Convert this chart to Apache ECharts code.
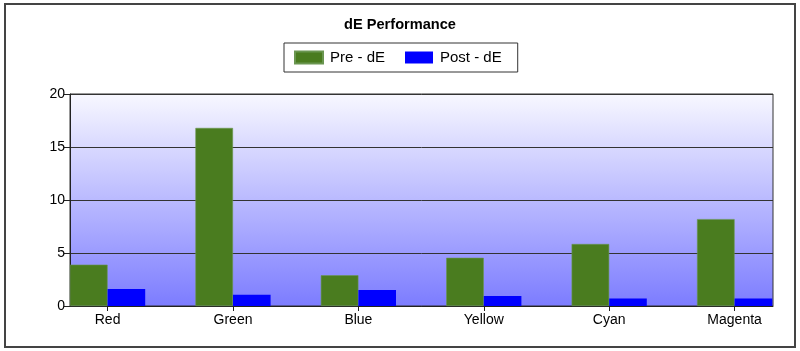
<!DOCTYPE html>
<html>
<head>
<meta charset="utf-8">
<script src="https://cdn.jsdelivr.net/npm/echarts@6/dist/echarts.min.js"></script>
<style>
  html, body { margin: 0; padding: 0; background: #fff; }
  #chart { width: 800px; height: 351px; }
</style>
</head>
<body>
<div id="chart"></div>
<script>
var categories = ['Red', 'Green', 'Blue', 'Yellow', 'Cyan', 'Magenta'];
var preDE = [3.9, 16.8, 2.9, 4.55, 5.85, 8.2];
var postDE = [1.6, 1.05, 1.5, 0.95, 0.7, 0.7];
var yTicks = { min: 0, max: 20, interval: 5 };

var font = 'Liberation Sans, Arial, sans-serif';
var chart = echarts.init(document.getElementById('chart'));

var option = {
    animation: false,
    textStyle: { fontFamily: font },
    title: {
        text: 'dE Performance',
        left: 'center',
        top: 12,
        textStyle: { fontSize: 14.6, fontWeight: 'bold', color: '#000', fontFamily: font }
    },
    legend: {
        data: ['Pre - dE', 'Post - dE'],
        left: 284,
        top: 43,
        itemWidth: 28,
        itemHeight: 12,
        itemGap: 20,
        padding: [7, 16, 7, 10],
        borderColor: '#333',
        borderWidth: 1,
        icon: 'rect',
        textStyle: { fontSize: 15, color: '#000', fontFamily: font, padding: [0, 0, 0, 2] }
    },
    graphic: [{
        type: 'rect',
        shape: { x: 5, y: 4, width: 790, height: 343 },
        style: { fill: 'none', stroke: '#444', lineWidth: 2 },
        z: 100
    }],
    grid: [
        {
            left: 70, right: 27, top: 94, bottom: 45,
            show: true,
            borderColor: '#333',
            borderWidth: 1,
            backgroundColor: new echarts.graphic.LinearGradient(0, 0, 0, 1, [
                { offset: 0, color: '#f8f8ff' },
                { offset: 1, color: '#7c7cff' }
            ])
        },
        // bar groups sit flush with both plot edges, so the labelled points get their own grid
        { left: 107.6, right: 65.4, top: 94, bottom: 45 }
    ],
    xAxis: [
        {
            gridIndex: 0,
            type: 'category',
            data: categories,
            axisLine: { show: true, lineStyle: { color: '#222' } },
            axisTick: { show: false },
            axisLabel: { show: false },
            splitLine: { show: false }
        },
        {
            gridIndex: 1,
            type: 'category',
            data: categories,
            boundaryGap: false,
            axisLine: { show: false },
            axisTick: { show: true, length: 5, lineStyle: { color: '#222' } },
            axisLabel: { fontSize: 14, color: '#000', margin: 7, fontFamily: font },
            splitLine: { show: false }
        }
    ],
    yAxis: [
        {
            gridIndex: 0,
            type: 'value',
            min: yTicks.min,
            max: yTicks.max,
            interval: yTicks.interval,
            axisLine: { show: true, lineStyle: { color: '#222' } },
            axisTick: { show: true, length: 6, lineStyle: { color: '#222' } },
            axisLabel: { fontSize: 14, color: '#000', margin: 5, fontFamily: font },
            splitLine: { show: true, lineStyle: { color: '#333', width: 1 } }
        },
        {
            gridIndex: 1,
            type: 'value',
            min: yTicks.min,
            max: yTicks.max,
            show: false
        }
    ],
    series: [
        {
            name: 'Pre - dE',
            type: 'bar',
            xAxisIndex: 1,
            yAxisIndex: 1,
            data: preDE,
            barWidth: 37.6,
            barGap: 0,
            clip: false,
            itemStyle: { color: '#4a7c1f', borderColor: '#6a9650', borderWidth: 0.6 }
        },
        {
            name: 'Post - dE',
            type: 'bar',
            xAxisIndex: 1,
            yAxisIndex: 1,
            data: postDE,
            barWidth: 37.6,
            barGap: 0,
            clip: false,
            itemStyle: { color: '#0000ff' }
        }
    ]
};

chart.setOption(option);
</script>
</body>
</html>
